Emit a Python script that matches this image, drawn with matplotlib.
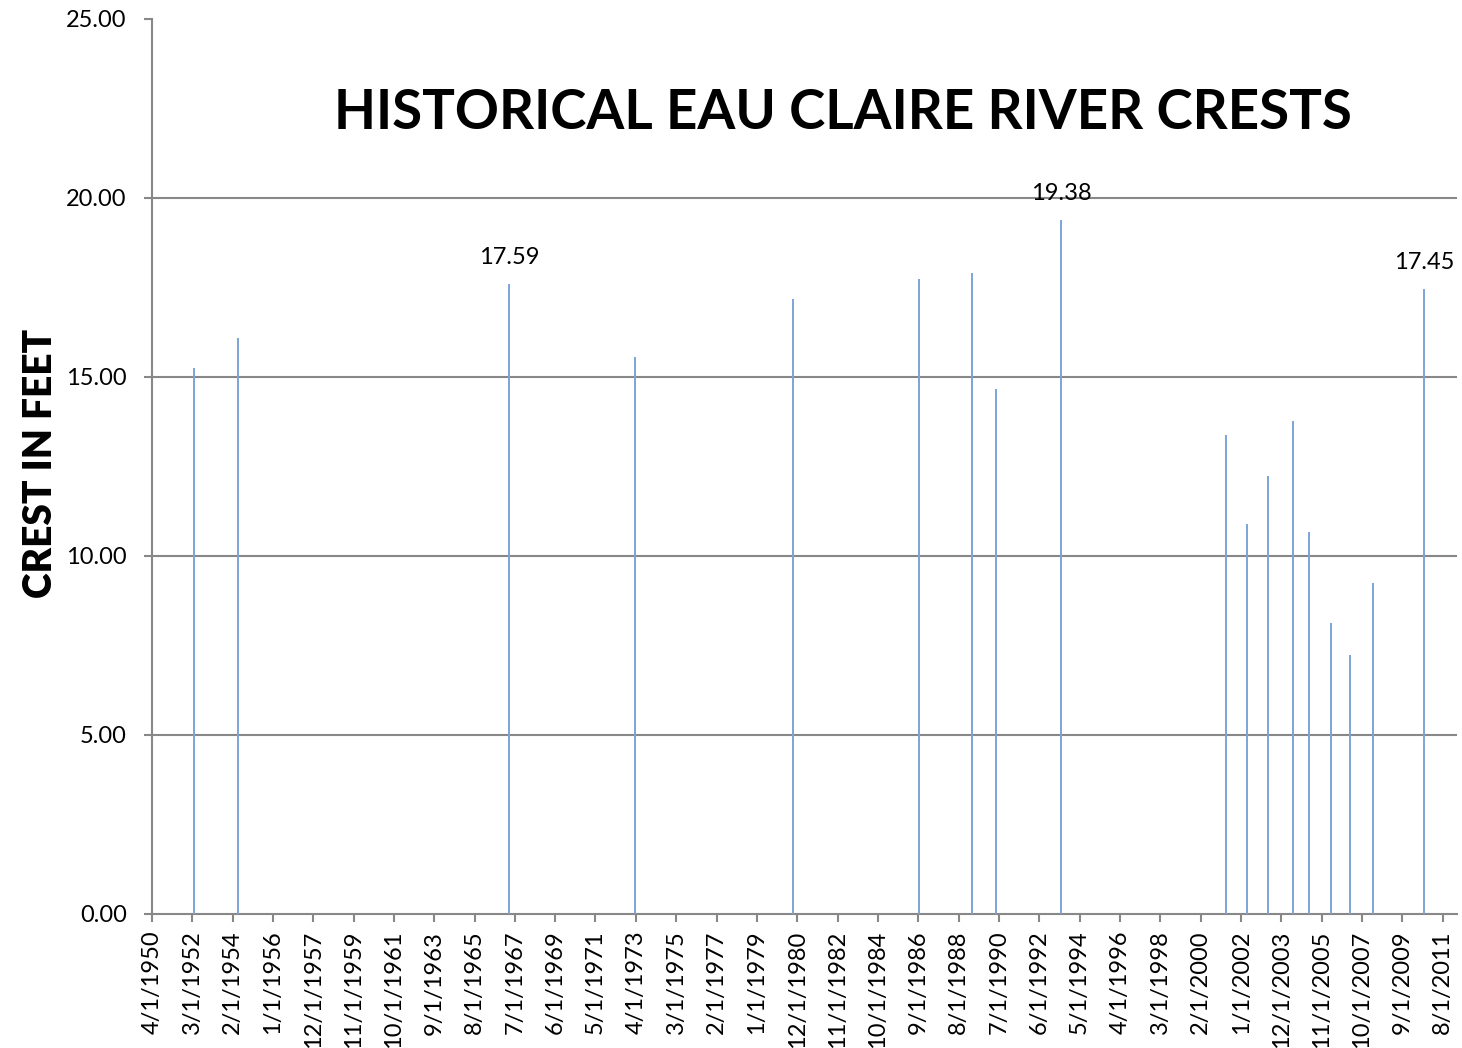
import datetime as dt
import matplotlib
matplotlib.use('Agg')
import matplotlib.pyplot as plt
import matplotlib.dates as mdates

# crest dates and heights (feet)
crest_dates = ['1952-04-10', '1954-05-10', '1967-03-25', '1973-03-20', '1980-09-15',
               '1986-09-10', '1989-03-15', '1990-05-20', '1993-06-15', '2001-04-15',
               '2002-04-15', '2003-04-20', '2004-06-15', '2005-03-20', '2006-04-10',
               '2007-03-15', '2008-04-15', '2010-09-15']
crest_feet = [15.25, 16.08, 17.59, 15.57, 17.18, 17.74, 17.91, 14.67, 19.38, 13.37,
              10.90, 12.24, 13.78, 10.67, 8.13, 7.23, 9.24, 17.45]
labelled = ['17.59', '19.38', '17.45']

tick_labels = ['4/1/1950', '3/1/1952', '2/1/1954', '1/1/1956', '12/1/1957', '11/1/1959',
               '10/1/1961', '9/1/1963', '8/1/1965', '7/1/1967', '6/1/1969', '5/1/1971',
               '4/1/1973', '3/1/1975', '2/1/1977', '1/1/1979', '12/1/1980', '11/1/1982',
               '10/1/1984', '9/1/1986', '8/1/1988', '7/1/1990', '6/1/1992', '5/1/1994',
               '4/1/1996', '3/1/1998', '2/1/2000', '1/1/2002', '12/1/2003', '11/1/2005',
               '10/1/2007', '9/1/2009', '8/1/2011']
y_ticks = [0, 5, 10, 15, 20, 25]

plt.rcParams['font.family'] = ['Lato', 'DejaVu Sans']

def parse(s, fmt):
    return dt.datetime.strptime(s, fmt)

x = [mdates.date2num(parse(d, '%Y-%m-%d')) for d in crest_dates]
xt = [mdates.date2num(parse(t, '%m/%d/%Y')) for t in tick_labels]

fig = plt.figure(figsize=(14.62, 10.48), dpi=100)
ax = fig.add_axes([0.1038, 0.1279, 0.8926, 0.854])

bar_col = '#7da4d8'
ax.vlines(x, 0, crest_feet, color=bar_col, lw=1.4, zorder=3)

for xi, v in zip(x, crest_feet):
    s = '%.2f' % v
    if s in labelled:
        ax.annotate(s, (xi, v), xytext=(0, 19), textcoords='offset points',
                    ha='center', va='center', fontsize=17, color='black', zorder=4)

ax.set_xlim(xt[0], mdates.date2num(dt.datetime(2012, 4, 1)))
ax.set_ylim(0, 25)

ax.set_xticks(xt)
ax.set_xticklabels(tick_labels, rotation=90, fontsize=17)
ax.set_yticks(y_ticks)
ax.set_yticklabels(['%.2f' % v for v in y_ticks], fontsize=17)
ax.tick_params(axis='x', length=6, width=1.5, color='#888888', pad=6, direction='out')
ax.tick_params(axis='y', length=6, width=1.5, color='#888888', pad=12, direction='out')

for v in y_ticks[1:-1]:
    ax.axhline(v, color='#888888', lw=1.5, zorder=1)

for side in ['top', 'right']:
    ax.spines[side].set_visible(False)
for side in ['left', 'bottom']:
    ax.spines[side].set_color('#888888')
    ax.spines[side].set_linewidth(1.5)

ax.text(0.53, 0.895, 'HISTORICAL EAU CLAIRE RIVER CRESTS', transform=ax.transAxes,
        ha='center', va='center', fontsize=39.3, fontweight='bold')
fig.text(0.0274, 0.558, 'CREST IN FEET', rotation=90, ha='center', va='center',
         fontsize=28, fontweight='heavy')

fig.savefig('out.png', dpi=100)
